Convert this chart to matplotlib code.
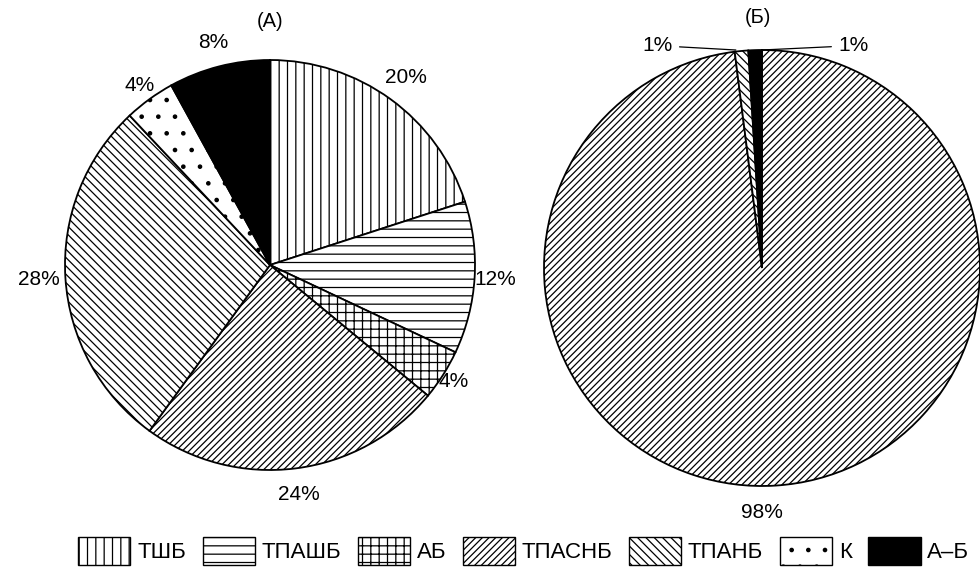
import matplotlib
matplotlib.use("Agg")
import matplotlib.pyplot as plt
import matplotlib.patches as mpatches
import numpy as np

plt.rcParams['font.family'] = ['Liberation Sans', 'DejaVu Sans']
plt.rcParams['hatch.linewidth'] = 0.9

names = ['ТШБ', 'ТПАШБ', 'АБ', 'ТПАСНБ', 'ТПАНБ', 'К', 'А–Б']
hatches = ['||', '--', '++', '/////', '\\\\\\\\', '.', '']
colors = ['white', 'white', 'white', 'white', 'white', 'white', 'black']

# (А)
vals_a = [20, 12, 4, 24, 28, 4, 8]
# (Б): ТПАСНБ, ТПАНБ, А–Б
vals_b = [98, 1, 1]
idx_b = [3, 4, 6]

fig = plt.figure(figsize=(9.8, 5.67), dpi=100)


def draw_pie(ax, vals, hs, cs):
    wedges, _ = ax.pie(vals, startangle=90, counterclock=False,
                       colors=cs, wedgeprops=dict(edgecolor='black', linewidth=1.3))
    for w, h in zip(wedges, hs):
        w.set_hatch(h)
        w.set_clip_on(False)
    ax.set_xlim(-1, 1)
    ax.set_ylim(-1, 1)
    ax.set_aspect('equal')
    ax.axis('off')
    return wedges


ax1 = fig.add_axes([65 / 980, 97 / 567, 410 / 980, 410 / 567])
w1 = draw_pie(ax1, vals_a, hatches, colors)
dist_a = [1.13, 1.1, 1.06, 1.13, 1.13, 1.08, 1.12]
for w, v, d in zip(w1, vals_a, dist_a):
    ang = np.deg2rad((w.theta1 + w.theta2) / 2)
    ax1.text(d * np.cos(ang), d * np.sin(ang), f'{v}%', ha='center', va='center', fontsize=15)
ax1.text(0, 1.19, '(А)', ha='center', va='center', fontsize=14.5)

ax2 = fig.add_axes([544 / 980, 81 / 567, 436 / 980, 436 / 567])
w2 = draw_pie(ax2, vals_b, [hatches[i] for i in idx_b], [colors[i] for i in idx_b])
ax2.text(0, -1.12, f'{vals_b[0]}%', ha='center', va='center', fontsize=15)
ax2.annotate(f'{vals_b[1]}%', xy=(-0.12, 1.0), xytext=(-0.41, 1.02),
             ha='right', va='center', fontsize=15, annotation_clip=False,
             arrowprops=dict(arrowstyle='-', lw=0.9, color='black', shrinkA=3, shrinkB=0))
ax2.annotate(f'{vals_b[2]}%', xy=(0.0, 1.0), xytext=(0.35, 1.02),
             ha='left', va='center', fontsize=15, annotation_clip=False,
             arrowprops=dict(arrowstyle='-', lw=0.9, color='black', shrinkA=3, shrinkB=0))
ax2.text(-0.02, 1.15, '(Б)', ha='center', va='center', fontsize=14.5)

handles = [mpatches.Patch(facecolor=c, edgecolor='black', hatch=h, linewidth=1.0)
           for c, h in zip(colors, hatches)]
fig.legend(handles, names, loc='lower left', bbox_to_anchor=(76 / 980, 0.0),
           ncol=7, frameon=False, fontsize=16, handlelength=2.35, handleheight=1.55,
           handletextpad=0.3, columnspacing=0.75, borderaxespad=0.0, borderpad=0.1)

fig.savefig('out.png', dpi=100)
